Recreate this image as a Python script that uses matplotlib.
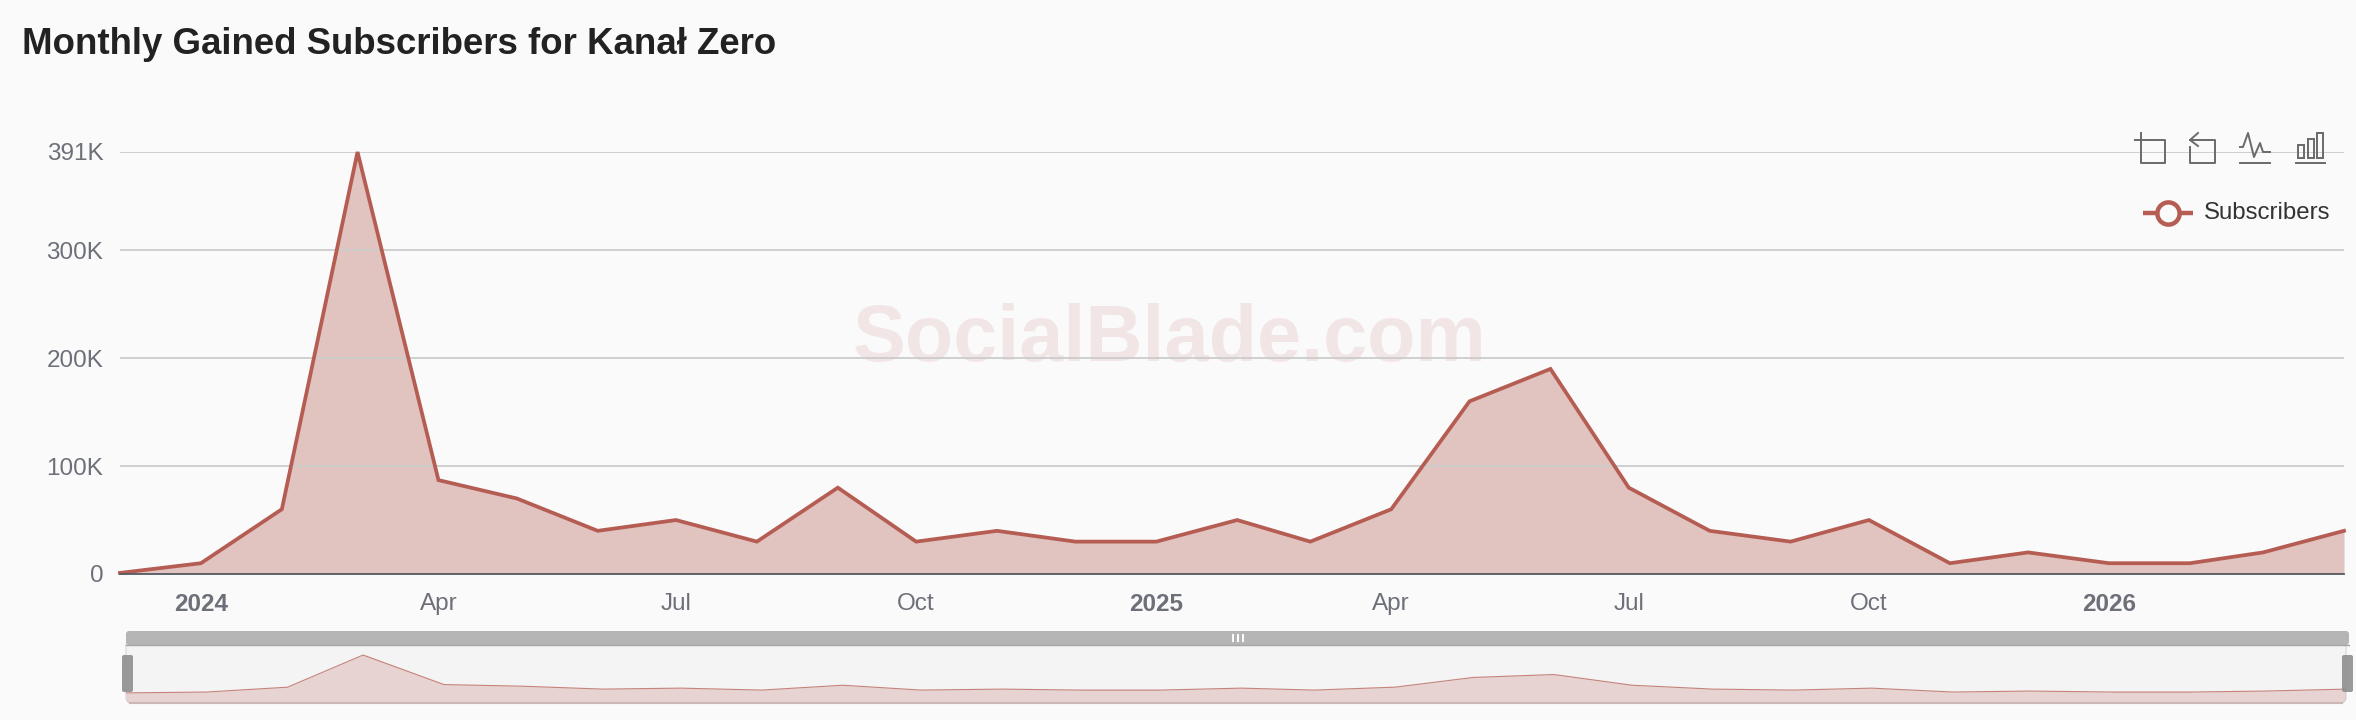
import numpy as np
import pandas as pd
import matplotlib
matplotlib.use("Agg")
import matplotlib.pyplot as plt
from matplotlib.patches import FancyBboxPatch, Rectangle

plt.rcParams['font.family'] = ['Liberation Sans', 'DejaVu Sans']

# monthly values
months = pd.date_range("2023-12-01", "2026-04-01", freq="MS")
subscribers = [1000, 10000, 60000, 391000, 87000, 70000, 40000, 50000, 30000, 80000,
               30000, 40000, 30000, 30000, 50000, 30000, 60000, 160000, 190000, 80000,
               40000, 30000, 50000, 10000, 20000, 10000, 10000, 20000, 40000]

y_ticks = [0, 100000, 200000, 300000, 391000]
y_labels = ["0", "100K", "200K", "300K", "391K"]
x_ticks = pd.to_datetime(["2024-01-01", "2024-04-01", "2024-07-01", "2024-10-01", "2025-01-01",
                          "2025-04-01", "2025-07-01", "2025-10-01", "2026-01-01"])
x_labels = ["2024", "Apr", "Jul", "Oct", "2025", "Apr", "Jul", "Oct", "2026"]
year_labels = ["2024", "2025", "2026"]

W, H = 2356, 720
BG = '#fafafa'
LINE = '#b55d53'
FILL = '#c98d85'
GREY = '#6e7079'
ICON = '#6a6a6a'


def box(x0, y0, x1, y1):
    """Convierte píxeles de la imagen a rectángulo de figura."""
    return [x0 / W, 1 - y1 / H, (x1 - x0) / W, (y1 - y0) / H]


fig = plt.figure(figsize=(W / 100, H / 100), dpi=100, facecolor=BG)

# capa de fondo en píxeles: título, marca de agua
bg = fig.add_axes([0, 0, 1, 1], zorder=0)
bg.set_xlim(0, W)
bg.set_ylim(H, 0)
bg.axis('off')
bg.text(22, 45, "Monthly Gained Subscribers for Kanał Zero", fontsize=26.4, fontweight='bold',
        color='#222222', va='center', ha='left')
bg.text(1170, 341, "SocialBlade.com", fontsize=57, fontweight='bold', color='#b55d53', alpha=0.12,
        va='center', ha='center')

# gráfico principal
ax = fig.add_axes(box(120, 152, 2344, 574), zorder=1)
ax.patch.set_alpha(0)
ax.set_xlim(months[0], months[-1])
ax.set_ylim(0, 391000)
ax.fill_between(months, subscribers, 0, color=FILL, alpha=0.5, linewidth=0, zorder=2)
ax.set_yticks(y_ticks, y_labels)
ax.set_xticks(x_ticks, x_labels)
ax.grid(True, axis='y', color='#cccccc', linewidth=1.3, zorder=3)
ax.plot(months, subscribers, color=LINE, linewidth=2.7, solid_joinstyle='miter', clip_on=False, zorder=4)
ax.set_axisbelow(False)
for name, spine in ax.spines.items():
    spine.set_visible(name == 'bottom')
ax.spines['bottom'].set_color('#555a60')
ax.spines['bottom'].set_linewidth(1.3)
ax.spines['bottom'].set_zorder(5)
ax.tick_params(axis='both', length=0, labelsize=17.5, labelcolor=GREY)
ax.tick_params(axis='y', pad=12)
ax.tick_params(axis='x', pad=14)
for lab in ax.get_xticklabels():
    if lab.get_text() in year_labels:
        lab.set_fontweight('bold')

# capa superior en píxeles: iconos y leyenda
top = fig.add_axes([0, 0, 1, 1], zorder=3)
top.set_xlim(0, W)
top.set_ylim(H, 0)
top.axis('off')
lw_icon = 1.4
# zoom
top.plot([2135, 2148], [140, 140], color=ICON, lw=lw_icon)
top.plot([2141, 2141, 2165, 2165, 2148], [133, 163, 163, 140, 140], color=ICON, lw=lw_icon)
# restore
top.plot([2190, 2215, 2215, 2190, 2190], [140, 140, 163, 163, 147], color=ICON, lw=lw_icon)
top.plot([2198, 2190, 2198], [133, 140, 146], color=ICON, lw=lw_icon)
# line
top.plot([2240, 2243, 2248, 2254, 2260, 2263, 2270], [147, 147, 133, 157, 143, 152, 152], color=ICON, lw=lw_icon)
top.plot([2240, 2270], [163, 163], color=ICON, lw=lw_icon)
# bar
top.plot([2296, 2325], [163, 163], color=ICON, lw=lw_icon)
for x0, x1, y0 in [(2298, 2304, 145), (2308, 2314, 139), (2317, 2323, 133)]:
    top.add_patch(Rectangle((x0, y0), x1 - x0, 158 - y0, fill=False, edgecolor=ICON, lw=lw_icon))

# leyenda
top.plot([2143, 2193], [213, 213], color=LINE, lw=3.2, solid_capstyle='butt')
top.plot([2168], [213], marker='o', ms=16, mfc=BG, mec=LINE, mew=3.2)
top.text(2204, 213, "Subscribers", fontsize=17.3, color='#333333', va='center', ha='left')

# barra de zoom inferior
mini = fig.add_axes(box(126, 645, 2346, 703), zorder=1)
mini.set_xlim(months[0], months[-1])
mini.set_ylim(-103000, 494000)
mini.patch.set_alpha(0)
mini.axis('off')
frame = FancyBboxPatch((126, 640), 2220, 63, boxstyle="round,pad=0,rounding_size=6",
                       facecolor='#f4f4f4', edgecolor='#dcdcdc', lw=1)
bg.add_patch(frame)
mini_fill = mini.fill_between(months, subscribers, -103000, color=FILL, alpha=0.3, linewidth=0)
mini_fill.set_clip_path(frame)
mini.plot(months, subscribers, color=LINE, alpha=0.75, linewidth=0.8)
top.plot([130, 2342], [703, 703], color='#c9b8b5', lw=1.5)

# barra gris y asas
top.add_patch(FancyBboxPatch((126, 631), 2223, 14, boxstyle="round,pad=0,rounding_size=3",
                             facecolor='#b5b5b5', edgecolor='none'))
top.plot([126, 2349], [645, 645], color='#a5a5a5', lw=1)
for hx in [122, 2342]:
    top.add_patch(FancyBboxPatch((hx, 655), 11, 37, boxstyle="round,pad=0,rounding_size=2",
                                 facecolor='#8f8f8f', edgecolor='none', alpha=0.9))
for gx in [1233, 1238, 1243]:
    top.plot([gx, gx], [635, 641], color='white', lw=1.4)

fig.savefig("out.png", dpi=100, facecolor=BG)
plt.close(fig)
